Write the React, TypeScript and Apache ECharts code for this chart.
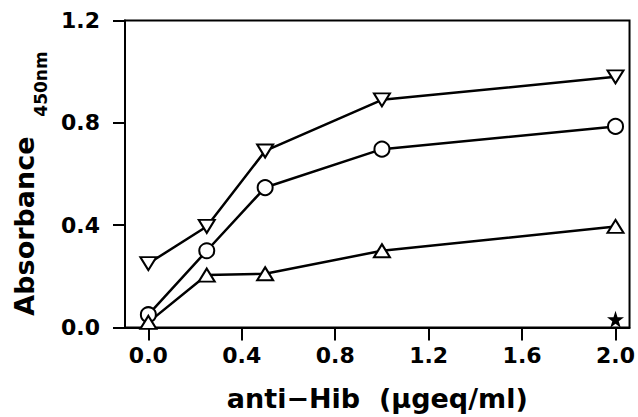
import React, { useEffect, useRef } from "react";
import * as echarts from "echarts";

const xValues = [0, 0.25, 0.5, 1.0, 2.0];
const downTriangleSeries = [0.25, 0.395, 0.69, 0.89, 0.98];
const circleSeries = [0.05, 0.3, 0.547, 0.697, 0.786];
const upTriangleSeries = [0.02, 0.205, 0.21, 0.3, 0.395];
const starPoint = [[2.0, 0.032]];
const xTicks = [0, 0.4, 0.8, 1.2, 1.6, 2.0];
const yTicks = [0, 0.4, 0.8, 1.2];

const FONT = "'DejaVu Sans', sans-serif";
const STAR =
  "path://M50,0 L61.8,35.4 L100,35.4 L69.1,57.3 L80.9,92.7 L50,70.8 L19.1,92.7 L30.9,57.3 L0,35.4 L38.2,35.4 Z";

const pair = (ys: number[]) => xValues.map((x, i) => [x, ys[i]]);

export default function App() {
  const ref = useRef<HTMLDivElement>(null);
  useEffect(() => {
    if (!ref.current) return;
    const chart = echarts.init(ref.current, null, { renderer: "svg" });
    const lineBase = {
      type: "line" as const,
      showSymbol: true,
      lineStyle: { color: "#000", width: 2.5 },
      itemStyle: { color: "#000", borderColor: "#000", borderWidth: 2.5 },
      z: 3,
    };
    chart.setOption({
      animation: false,
      backgroundColor: "#fff",
      grid: {
        left: 125,
        right: 6,
        top: 20.5,
        bottom: 89.5,
        show: true,
        borderColor: "#000",
        borderWidth: 2,
        backgroundColor: "transparent",
      },
      xAxis: {
        type: "value",
        min: -0.1,
        max: 2.06,
        splitLine: { show: false },
        axisLine: { show: true, onZero: false, lineStyle: { color: "#000", width: 2 } },
        axisTick: {
          show: true,
          inside: false,
          length: 13,
          customValues: xTicks,
          lineStyle: { color: "#000", width: 2 },
        },
        axisLabel: {
          customValues: xTicks,
          margin: 17,
          color: "#000",
          fontFamily: FONT,
          fontWeight: "bold",
          fontSize: 22,
          formatter: (v: number) => v.toFixed(1),
        },
        name: "anti\u2212Hib  (\u00b5geq/ml)",
        nameLocation: "middle",
        nameGap: 57,
        nameTextStyle: {
          color: "#000",
          fontFamily: FONT,
          fontWeight: "bold",
          fontSize: 27,
        },
      },
      yAxis: {
        type: "value",
        min: 0,
        max: 1.2,
        interval: 0.4,
        splitLine: { show: false },
        axisLine: { show: true, onZero: false, lineStyle: { color: "#000", width: 2 } },
        axisTick: {
          show: true,
          inside: false,
          length: 12,
          customValues: yTicks,
          lineStyle: { color: "#000", width: 2 },
        },
        axisLabel: {
          customValues: yTicks,
          margin: 25,
          color: "#000",
          fontFamily: FONT,
          fontWeight: "bold",
          fontSize: 22,
          formatter: (v: number) => v.toFixed(1),
        },
      },
      graphic: [
        {
          type: "text",
          x: 24,
          y: 226,
          rotation: Math.PI / 2,
          style: {
            text: "Absorbance",
            fill: "#000",
            font: `bold 27px ${FONT}`,
            align: "center",
            verticalAlign: "middle",
          },
        },
        {
          type: "text",
          x: 41,
          y: 84,
          rotation: Math.PI / 2,
          style: {
            text: "450nm",
            fill: "#000",
            font: `bold 17px ${FONT}`,
            align: "center",
            verticalAlign: "middle",
          },
        },
      ],
      series: [
        {
          ...lineBase,
          name: "down",
          symbol: "emptyTriangle",
          symbolRotate: 180,
          symbolSize: [16, 13],
          data: pair(downTriangleSeries),
        },
        {
          ...lineBase,
          name: "circle",
          symbol: "emptyCircle",
          symbolSize: 15,
          data: pair(circleSeries),
        },
        {
          ...lineBase,
          name: "up",
          symbol: "emptyTriangle",
          symbolSize: [16, 13],
          data: pair(upTriangleSeries),
        },
        {
          type: "scatter",
          name: "star",
          symbol: STAR,
          symbolSize: 17,
          itemStyle: { color: "#000", opacity: 1 },
          data: starPoint,
          z: 4,
        },
      ],
    });
    return () => chart.dispose();
  }, []);
  return (
    <div
      ref={ref}
      style={{ position: "absolute", left: 0, top: 0, width: 638, height: 417 }}
    />
  );
}
